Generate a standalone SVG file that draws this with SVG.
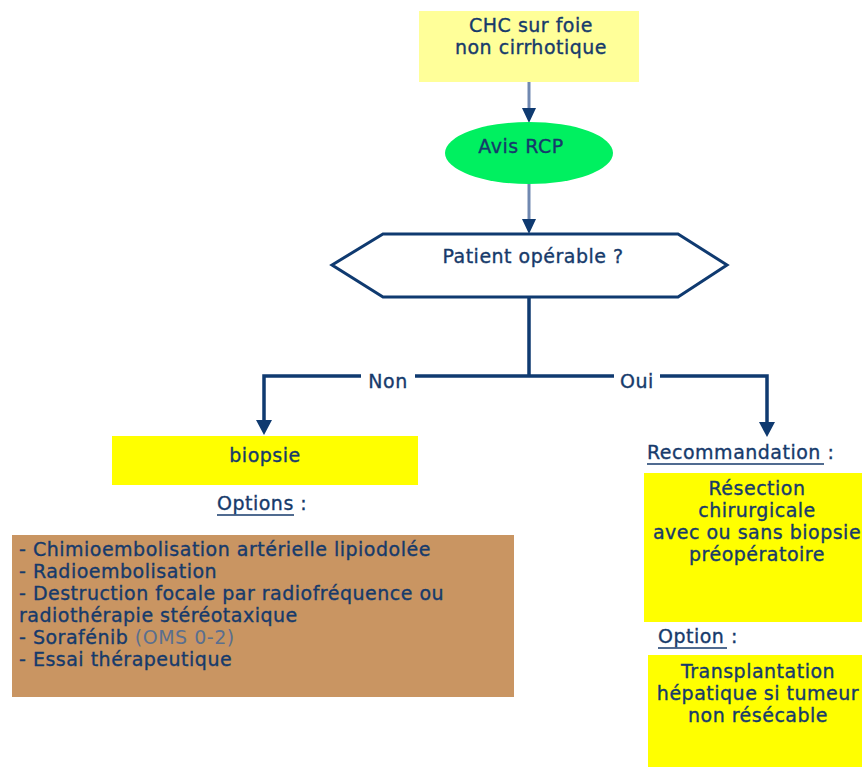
<svg xmlns="http://www.w3.org/2000/svg" width="866" height="767" viewBox="0 0 866 767">
  <style>
    text { font-family: "DejaVu Sans", Verdana, sans-serif; fill: #163a6b; stroke: #163a6b; stroke-width: 0.35; font-size: 19px; letter-spacing: 0.5px; }
    .c { text-anchor: middle; }
    .link { fill: none; stroke: #0f3a70; stroke-width: 3.5; }
    .light { fill: none; stroke: #7088b0; stroke-width: 3; }
    .ul { stroke: #163a6b; stroke-width: 1.5; }
    .head { fill: #0f3a70; }
    .muted { fill: #5a6f8f; stroke: none; }
  </style>
  <rect width="866" height="767" fill="#ffffff"/>

  <g id="connectors">
    <line class="light" x1="529" y1="82" x2="529" y2="110"/>
    <path class="head" d="M522 108 L536 108 L529 123 Z"/>
    <line class="light" x1="529" y1="184" x2="529" y2="221"/>
    <path class="head" d="M522 219 L536 219 L529 234 Z"/>
    <path class="link" d="M529 297 V376 M264 422 V376 H767 V424"/>
    <path class="head" d="M256 420 L272 420 L264 435 Z"/>
    <path class="head" d="M759 422 L775 422 L767 437 Z"/>
    <rect x="361" y="366" width="54" height="22" fill="#ffffff"/>
    <rect x="614" y="366" width="46" height="22" fill="#ffffff"/>
    <text class="c" x="388" y="388">Non</text>
    <text class="c" x="637" y="388">Oui</text>
  </g>

  <g id="start">
    <rect x="419" y="11" width="220" height="71" fill="#ffff99"/>
    <text class="c" x="531" y="32">CHC sur foie</text>
    <text class="c" x="531" y="54">non cirrhotique</text>
  </g>

  <g id="rcp">
    <ellipse cx="529" cy="153" rx="84" ry="31" fill="#00f060"/>
    <text class="c" x="521" y="153">Avis RCP</text>
  </g>

  <g id="decision">
    <polygon points="332,265 383,234 678,234 727,265 678,297 383,297" fill="#ffffff" stroke="#0f3a70" stroke-width="3"/>
    <text class="c" x="533" y="263">Patient opérable ?</text>
  </g>

  <g id="biopsie">
    <rect x="112" y="436" width="306" height="49" fill="#ffff00"/>
    <text class="c" x="265" y="462">biopsie</text>
  </g>

  <g id="options">
    <text x="217" y="510">Options<tspan> :</tspan></text>
    <line class="ul" x1="217" y1="515" x2="294" y2="515"/>
    <rect x="12" y="535" width="502" height="162" fill="#c99562"/>
    <text x="19" y="556">- Chimioembolisation artérielle lipiodolée</text>
    <text x="19" y="578">- Radioembolisation</text>
    <text x="19" y="600">- Destruction focale par radiofréquence ou</text>
    <text x="19" y="622">radiothérapie stéréotaxique</text>
    <text x="19" y="644">- Sorafénib <tspan class="muted">(OMS 0-2)</tspan></text>
    <text x="19" y="666">- Essai thérapeutique</text>
  </g>

  <g id="recommandation">
    <text x="647" y="459">Recommandation<tspan> :</tspan></text>
    <line class="ul" x1="647" y1="464" x2="824" y2="464"/>
    <rect x="644" y="473" width="218" height="149" fill="#ffff00"/>
    <text class="c" x="757" y="495">Résection</text>
    <text class="c" x="757" y="517">chirurgicale</text>
    <text class="c" x="757" y="539">avec ou sans biopsie</text>
    <text class="c" x="757" y="561">préopératoire</text>
  </g>

  <g id="option-greffe">
    <text x="658" y="643">Option<tspan> :</tspan></text>
    <line class="ul" x1="658" y1="648" x2="727" y2="648"/>
    <rect x="648" y="655" width="214" height="112" fill="#ffff00"/>
    <text class="c" x="758" y="678">Transplantation</text>
    <text class="c" x="758" y="700">hépatique si tumeur</text>
    <text class="c" x="758" y="722">non résécable</text>
  </g>
</svg>
